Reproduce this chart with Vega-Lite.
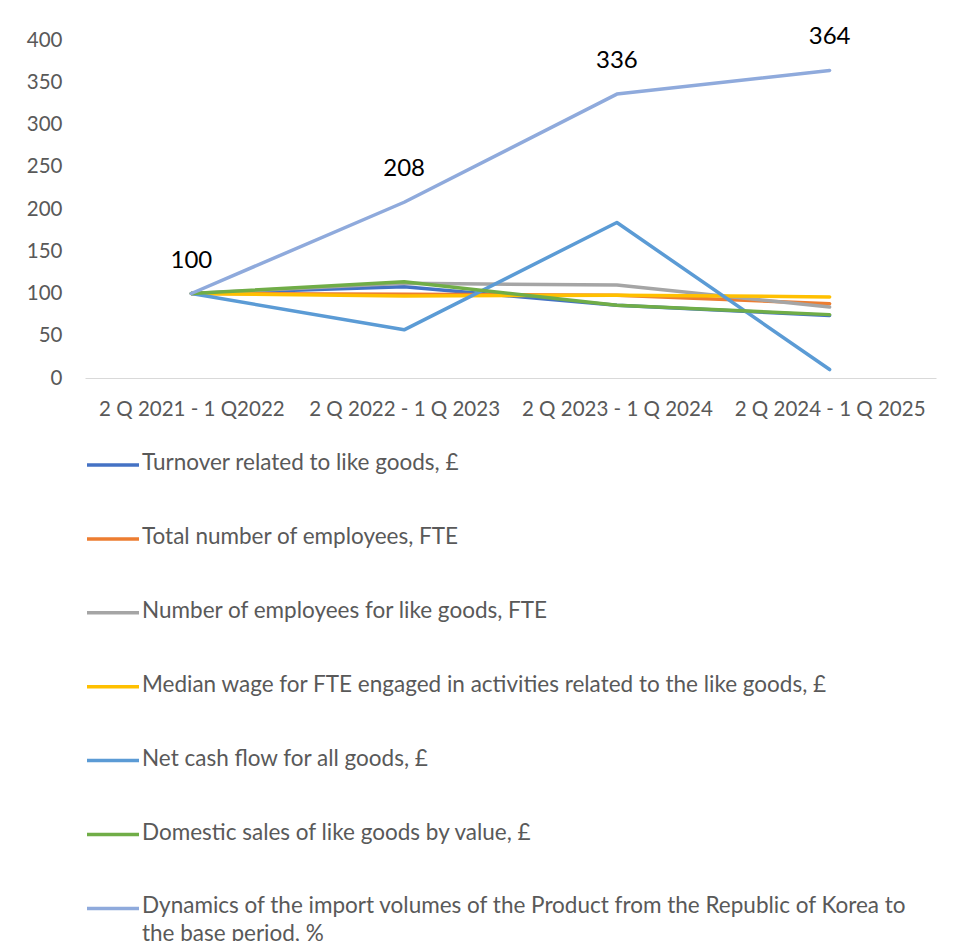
{
  "$schema": "https://vega.github.io/schema/vega-lite/v6.json",
  "width": 851,
  "height": 338,
  "autosize": {"type": "none"},
  "padding": {"left": 85, "top": 40, "right": 18, "bottom": 563},
  "background": "white",
  "config": {
    "view": {"stroke": null},
    "font": "Lato",
    "axis": {"labelFont": "Lato", "labelColor": "#595959", "labelFontSize": 20.5, "labelLimit": 400}
  },
  "data": {
    "values": [
      {"series": "Turnover related to like goods, £", "period": "2 Q 2021 - 1 Q2022", "value": 100},
      {"series": "Turnover related to like goods, £", "period": "2 Q 2022 - 1 Q 2023", "value": 108},
      {"series": "Turnover related to like goods, £", "period": "2 Q 2023 - 1 Q 2024", "value": 86},
      {"series": "Turnover related to like goods, £", "period": "2 Q 2024 - 1 Q 2025", "value": 74},
      {"series": "Total number of employees, FTE", "period": "2 Q 2021 - 1 Q2022", "value": 100},
      {"series": "Total number of employees, FTE", "period": "2 Q 2022 - 1 Q 2023", "value": 99},
      {"series": "Total number of employees, FTE", "period": "2 Q 2023 - 1 Q 2024", "value": 98},
      {"series": "Total number of employees, FTE", "period": "2 Q 2024 - 1 Q 2025", "value": 88},
      {"series": "Number of employees for like goods, FTE", "period": "2 Q 2021 - 1 Q2022", "value": 100},
      {"series": "Number of employees for like goods, FTE", "period": "2 Q 2022 - 1 Q 2023", "value": 112},
      {"series": "Number of employees for like goods, FTE", "period": "2 Q 2023 - 1 Q 2024", "value": 110},
      {"series": "Number of employees for like goods, FTE", "period": "2 Q 2024 - 1 Q 2025", "value": 84},
      {"series": "Median wage for FTE engaged in activities related to the like goods, £", "period": "2 Q 2021 - 1 Q2022", "value": 100},
      {"series": "Median wage for FTE engaged in activities related to the like goods, £", "period": "2 Q 2022 - 1 Q 2023", "value": 97},
      {"series": "Median wage for FTE engaged in activities related to the like goods, £", "period": "2 Q 2023 - 1 Q 2024", "value": 98},
      {"series": "Median wage for FTE engaged in activities related to the like goods, £", "period": "2 Q 2024 - 1 Q 2025", "value": 96},
      {"series": "Net cash flow for all goods, £", "period": "2 Q 2021 - 1 Q2022", "value": 100},
      {"series": "Net cash flow for all goods, £", "period": "2 Q 2022 - 1 Q 2023", "value": 57},
      {"series": "Net cash flow for all goods, £", "period": "2 Q 2023 - 1 Q 2024", "value": 184},
      {"series": "Net cash flow for all goods, £", "period": "2 Q 2024 - 1 Q 2025", "value": 10},
      {"series": "Domestic sales of like goods by value, £", "period": "2 Q 2021 - 1 Q2022", "value": 100},
      {"series": "Domestic sales of like goods by value, £", "period": "2 Q 2022 - 1 Q 2023", "value": 114},
      {"series": "Domestic sales of like goods by value, £", "period": "2 Q 2023 - 1 Q 2024", "value": 86},
      {"series": "Domestic sales of like goods by value, £", "period": "2 Q 2024 - 1 Q 2025", "value": 75},
      {"series": "Dynamics of the import volumes of the Product from the Republic of Korea to the base period, %", "period": "2 Q 2021 - 1 Q2022", "value": 100},
      {"series": "Dynamics of the import volumes of the Product from the Republic of Korea to the base period, %", "period": "2 Q 2022 - 1 Q 2023", "value": 208},
      {"series": "Dynamics of the import volumes of the Product from the Republic of Korea to the base period, %", "period": "2 Q 2023 - 1 Q 2024", "value": 336},
      {"series": "Dynamics of the import volumes of the Product from the Republic of Korea to the base period, %", "period": "2 Q 2024 - 1 Q 2025", "value": 364}
    ]
  },
  "encoding": {
    "x": {
      "field": "period",
      "type": "ordinal",
      "sort": null,
      "scale": {"type": "point", "padding": 0.5},
      "axis": {
        "title": null,
        "labelAngle": 0,
        "ticks": false,
        "tickSize": 0,
        "labelPadding": 21,
        "labelLimit": 400,
        "domainColor": "#d9d9d9",
        "domainWidth": 1,
        "grid": false
      }
    },
    "y": {
      "field": "value",
      "type": "quantitative",
      "scale": {"domain": [0, 400], "nice": false},
      "axis": {
        "title": null,
        "values": [0, 50, 100, 150, 200, 250, 300, 350, 400],
        "domain": false,
        "ticks": false,
        "tickSize": 0,
        "grid": false,
        "labelPadding": 23
      }
    }
  },
  "layer": [
    {
      "mark": {"type": "line", "strokeWidth": 3.5, "strokeCap": "round", "strokeJoin": "round"},
      "encoding": {
        "color": {
          "field": "series",
          "type": "nominal",
          "scale": {
            "domain": [
              "Turnover related to like goods, £",
              "Total number of employees, FTE",
              "Number of employees for like goods, FTE",
              "Median wage for FTE engaged in activities related to the like goods, £",
              "Net cash flow for all goods, £",
              "Domestic sales of like goods by value, £",
              "Dynamics of the import volumes of the Product from the Republic of Korea to the base period, %"
            ],
            "range": ["#4472C4", "#ED7D31", "#A5A5A5", "#FFC000", "#5B9BD5", "#70AD47", "#8FAADC"]
          },
          "legend": {
            "title": null,
            "orient": "none",
            "legendX": 0,
            "legendY": 397,
            "direction": "vertical",
            "symbolType": "stroke",
            "symbolSize": 2704,
            "symbolStrokeWidth": 3.5,
            "labelFont": "Lato",
            "labelFontSize": 22.5,
            "labelColor": "#595959",
            "labelLimit": 900,
            "labelOffset": 1,
            "rowPadding": 35.9,
            "labelExpr": "datum.label == 'Dynamics of the import volumes of the Product from the Republic of Korea to the base period, %' ? ['Dynamics of the import volumes of the Product from the Republic of Korea to', 'the base period, %'] : datum.label",
            "encode": {
              "labels": {"update": {"lineHeight": {"value": 28}, "baseline": {"value": "top"}, "dy": {"value": -13}}}
            }
          }
        }
      }
    },
    {
      "transform": [{"filter": "datum.series == 'Dynamics of the import volumes of the Product from the Republic of Korea to the base period, %'"}],
      "mark": {"type": "text", "dy": -33, "fontSize": 24, "font": "Lato", "color": "#000000", "baseline": "middle"},
      "encoding": {"text": {"field": "value", "type": "quantitative"}}
    }
  ]
}
